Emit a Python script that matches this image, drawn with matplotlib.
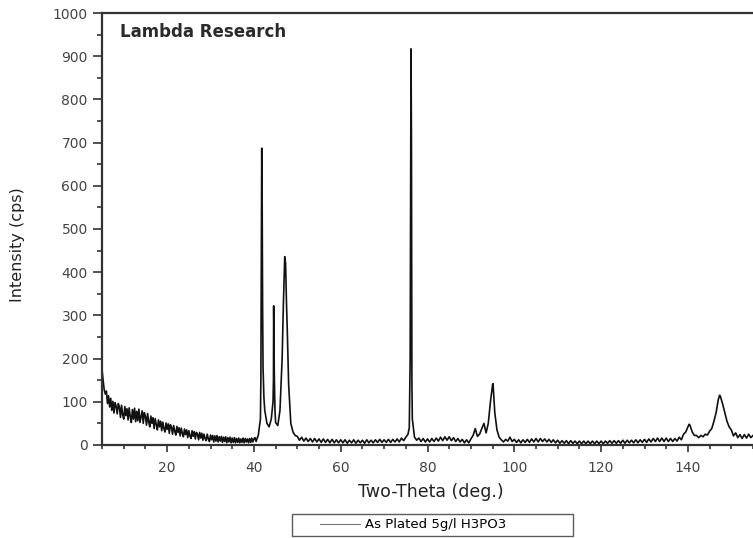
"""XRD scan, as-plated deposit (5 g/l H3PO3): intensity vs two-theta."""
import numpy as np
import matplotlib
matplotlib.use("Agg")
import matplotlib.pyplot as plt
from matplotlib.ticker import MultipleLocator
from matplotlib.legend_handler import HandlerLine2D

# low-angle part of the scan, 0.25 deg step, 5.0 - 40.75 deg (noisy background)
low_start, low_step = 5.0, 0.25
low_counts = [
    175, 150, 128, 118, 125, 96, 114, 88,     # 5.0
    108, 80, 101, 74, 98, 90, 72, 96,         # 7.0
    88, 64, 92, 70, 60, 89, 68, 84,           # 9.0
    58, 86, 66, 52, 82, 60, 85, 54,           # 11.0
    78, 56, 83, 52, 66, 79, 50, 75,           # 13.0
    66, 46, 73, 54, 42, 67, 50, 63,           # 15.0
    38, 61, 47, 35, 58, 42, 55, 33,           # 17.0
    53, 38, 30, 51, 36, 49, 27, 47,           # 19.0
    41, 25, 45, 32, 23, 43, 29, 40,           # 21.0
    21, 39, 27, 19, 37, 24, 35, 17,           # 23.0
    33, 21, 15, 33, 20, 31, 14, 29,           # 25.0
    25, 12, 29, 16, 27, 11, 25, 15,           # 27.0
    10, 25, 14, 8, 23, 12, 22, 7,             # 29.0
    21, 9, 22, 7, 19, 9, 20, 6,               # 31.0
    18, 8, 19, 5, 17, 7, 18, 5,               # 33.0
    16, 6, 17, 5, 15, 6, 16, 5,               # 35.0
    14, 6, 16, 5, 15, 7, 14, 5,               # 37.0
    15, 6, 16, 7, 14, 17, 8, 16,              # 39.0
]

# rest of the scan, 0.5 deg step, 41.0 - 155 deg
high_start, high_step = 41.0, 0.5
high_counts = [
    22, 60, 320, 80, 50, 42, 60, 150,                 # 41.0 - 44.5
    52, 45, 80, 200, 400, 330, 140, 50, 30, 22,       # 45
    20, 11, 18, 9, 16, 8, 15, 7, 15, 7,               # 50
    14, 6, 14, 6, 13, 5, 13, 5, 12, 5,                # 55
    12, 5, 12, 4, 11, 5, 12, 4, 11, 5,                # 60
    11, 4, 12, 5, 11, 5, 12, 6, 13, 6,                # 65
    12, 6, 13, 6, 13, 7, 14, 7, 16, 10,               # 70
    18, 25, 200, 60, 18, 11, 16, 8, 15, 7,            # 75
    14, 7, 15, 8, 16, 9, 18, 10, 19, 11,              # 80
    19, 10, 17, 8, 15, 7, 13, 5, 12, 5,               # 85
    14, 22, 38, 20, 25, 38, 50, 28, 50, 100,          # 90
    140, 75, 35, 18, 12, 7, 13, 9, 18, 8,             # 95
    13, 6, 12, 5, 12, 6, 13, 6, 14, 7,                # 100
    15, 7, 15, 8, 14, 7, 13, 6, 12, 5,                # 105
    11, 4, 10, 4, 10, 3, 10, 4, 9, 3,                 # 110
    9, 3, 9, 3, 9, 3, 9, 3, 9, 3,                     # 115
    9, 3, 9, 4, 10, 4, 10, 4, 10, 4,                  # 120
    11, 4, 11, 5, 11, 5, 12, 5, 12, 6,                # 125
    13, 6, 14, 7, 15, 8, 16, 8, 16, 8,                # 130
    16, 8, 15, 8, 15, 9, 18, 12, 25, 30,              # 135
    42, 45, 30, 22, 22, 17, 22, 19, 25, 23,           # 140
    32, 38, 55, 75, 105, 112, 95, 75, 55, 42,         # 145
    35, 21, 28, 17, 24, 15, 24, 16, 25, 17,           # 150
    22,                                               # 155
]

# extra points on the sharp reflections
peak_theta = [41.6, 41.7, 41.8, 41.9, 42.1, 42.3,
              44.4, 44.55, 44.7, 44.85,
              46.8, 47.1, 47.3, 47.7,
              75.8, 75.9, 76.1, 76.2, 76.3, 76.4,
              94.8, 95.1, 140.3, 147.3]
peak_counts = [150, 450, 687, 560, 180, 110,
               100, 322, 160, 80,
               330, 436, 420, 260,
               40, 120, 600, 917, 700, 150,
               125, 142, 48, 115]

legend_label = "As Plated 5g/l H3PO3"

low_theta = low_start + low_step * np.arange(len(low_counts))
high_theta = high_start + high_step * np.arange(len(high_counts))
theta = np.concatenate([low_theta, high_theta, peak_theta])
counts = np.concatenate([low_counts, high_counts, peak_counts])
order = np.argsort(theta, kind="stable")
theta, counts = theta[order], counts[order]


class ShortLineHandler(HandlerLine2D):
    """legend sample that only fills the right part of the handle box"""
    def get_xdata(self, legend, xdescent, ydescent, width, height, fontsize):
        x = np.array([-xdescent + 0.365 * width, -xdescent + width])
        return x, x


fig = plt.figure(figsize=(7.53, 5.38), dpi=100)
ax = fig.add_axes([0.1355, 0.1729, 0.8645, 0.8029])

line, = ax.plot(theta, counts, color="#111111", lw=1.2, label=legend_label)

ax.set_xlim(5, 155)
ax.set_ylim(0, 1000)
ax.xaxis.set_major_locator(MultipleLocator(20))
ax.xaxis.set_minor_locator(MultipleLocator(5))
ax.yaxis.set_major_locator(MultipleLocator(100))
ax.yaxis.set_minor_locator(MultipleLocator(50))

ax.spines["right"].set_visible(False)
for s in ("left", "bottom", "top"):
    ax.spines[s].set_linewidth(1.6)
    ax.spines[s].set_color("#333333")

ax.tick_params(axis="x", which="major", length=5, width=1.2, pad=6.5,
               labelsize=10, labelcolor="#444444", color="#333333")
ax.tick_params(axis="x", which="minor", length=3.2, width=1.2, color="#333333")
ax.tick_params(axis="y", which="major", length=6.7, width=1.2, pad=3.5,
               labelsize=10, labelcolor="#444444", color="#333333")
ax.tick_params(axis="y", which="minor", length=3.5, width=1.2, color="#333333")

ax.set_xlabel("Two-Theta (deg.)", fontsize=12.5, color="#222222")
ax.set_ylabel("Intensity (cps)", fontsize=11.5, color="#222222")
ax.xaxis.set_label_coords(0.505, -0.088)
ax.yaxis.set_label_coords(-0.118, 0.463)

ax.text(0.0276, 0.956, "Lambda Research", transform=ax.transAxes,
        fontsize=12, fontweight="bold", color="#2a2a2a", va="center", ha="left")

leg = ax.legend(loc="upper left", bbox_to_anchor=(0.388, 0.002, 0.373, 0.043),
                bbox_transform=fig.transFigure, mode="expand", fontsize=9.5,
                frameon=True, fancybox=False, borderpad=0.35, handlelength=4.8,
                handletextpad=0.4, borderaxespad=0,
                handler_map={line: ShortLineHandler()})
leg.get_frame().set_edgecolor("#333333")
leg.get_frame().set_linewidth(1.0)
leg_line = leg.get_lines()[0]
leg_line.set_color("#777777")
leg_line.set_linewidth(0.8)

fig.savefig("out.png", dpi=100)
